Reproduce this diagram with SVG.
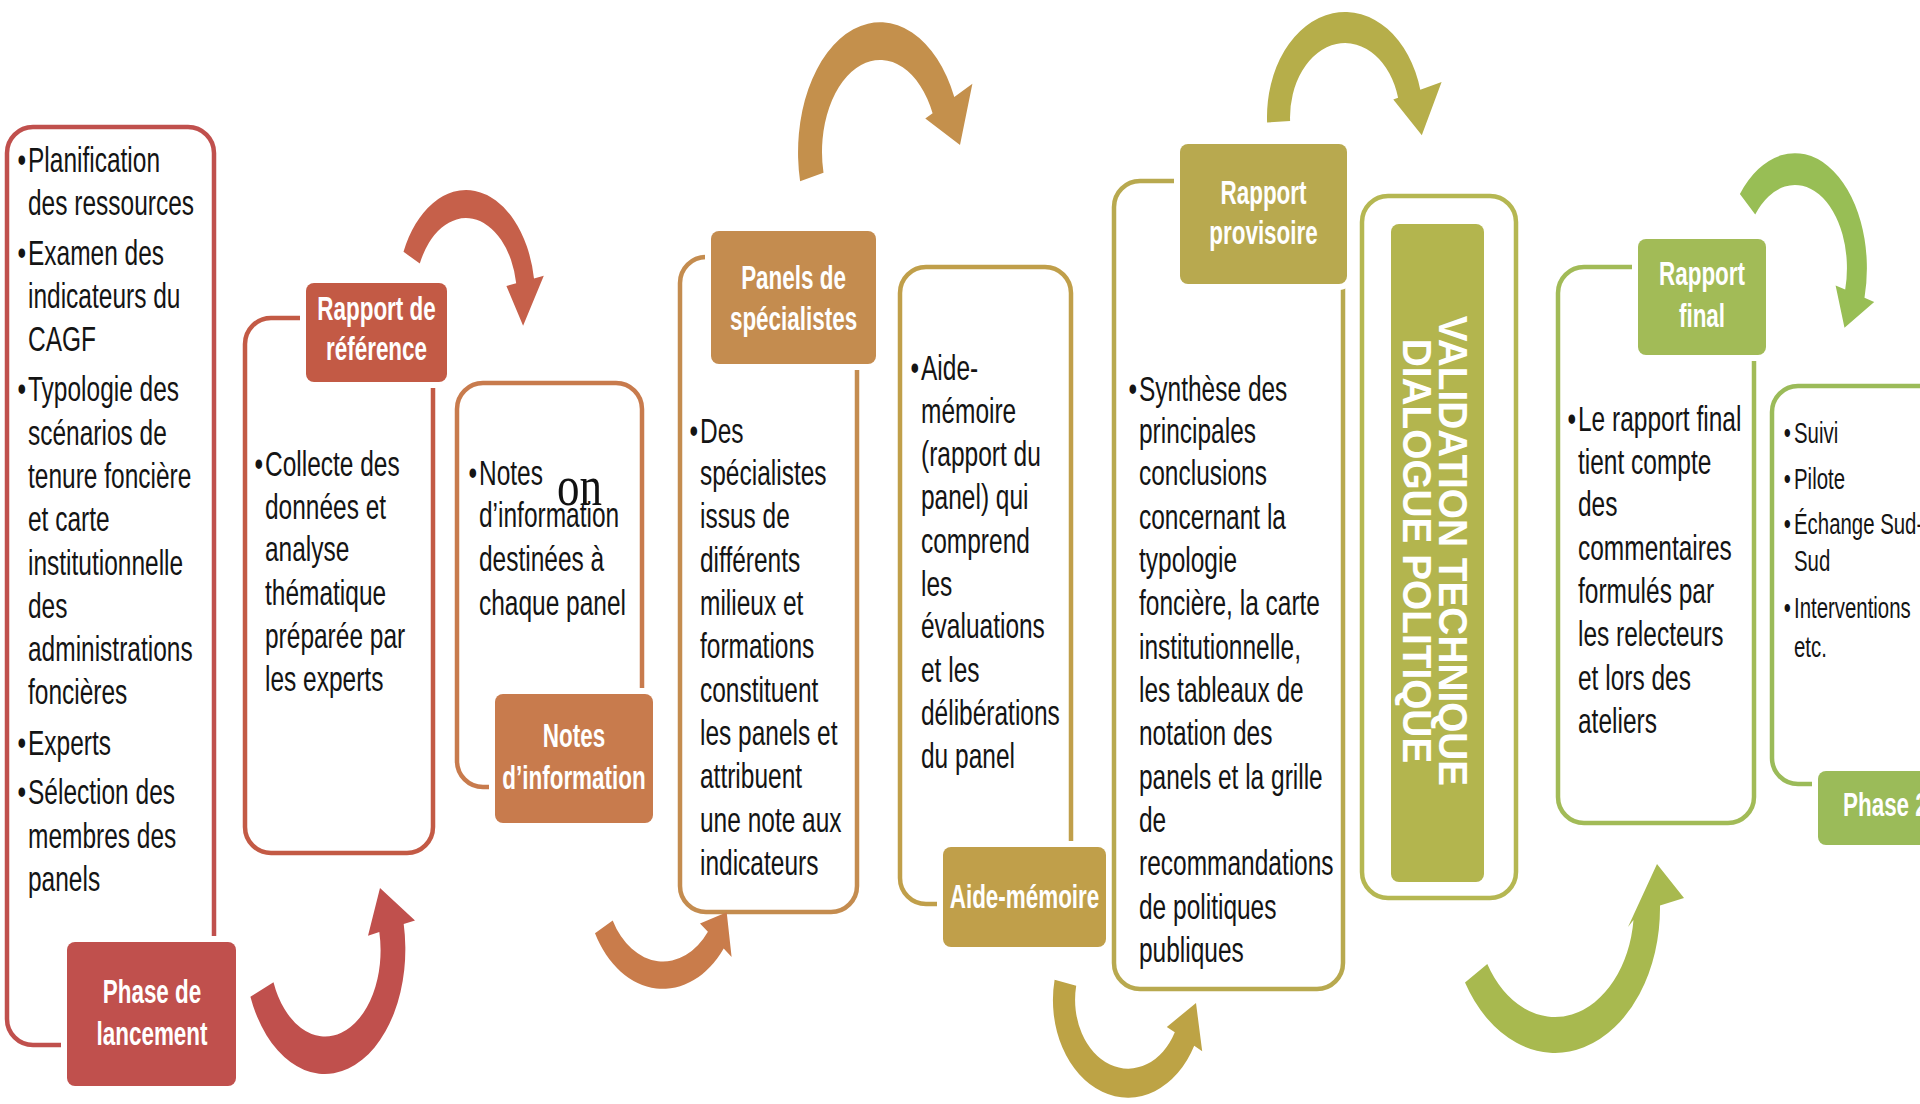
<svg xmlns="http://www.w3.org/2000/svg" width="1920" height="1104" viewBox="0 0 1920 1104">
<style>
.body{font-family:"Liberation Sans",Arial,sans-serif;font-size:35px;fill:#141414}
.small{font-size:30px}
.lbl{font-family:"Liberation Sans",Arial,sans-serif;font-size:34px;font-weight:bold;fill:#ffffff;text-anchor:middle}
.lbls{font-family:"Liberation Sans",Arial,sans-serif;font-size:34px;font-weight:bold;fill:#ffffff}
.vt{font-family:"Liberation Sans",Arial,sans-serif;font-size:40px;font-weight:bold;fill:#ffffff;text-anchor:middle}
.frame{fill:#ffffff;stroke-width:4.5}
.tag{stroke:#ffffff;stroke-width:12;paint-order:stroke}
.serif{font-family:"Liberation Serif","Times New Roman",serif;font-size:58px;fill:#111111}
</style>
<rect width="1920" height="1104" fill="#ffffff"/>

<g id="node-lancement">
<rect class="frame" x="7" y="127" width="207" height="918" rx="26" stroke="#c0504d"/>
<rect class="tag" x="67" y="942" width="169" height="144" rx="8" fill="#c0504d"/>
<text class="lbl" transform="translate(152,0) scale(0.66,1)"><tspan x="0" y="1003">Phase de</tspan><tspan x="0" y="1045">lancement</tspan></text>
<text class="body" transform="translate(28,0) scale(0.7,1)">
<tspan x="-15" y="172">•</tspan><tspan x="0" y="172">Planification</tspan>
<tspan x="0" y="215">des ressources</tspan>
<tspan x="-15" y="265">•</tspan><tspan x="0" y="265">Examen des</tspan>
<tspan x="0" y="308">indicateurs du</tspan>
<tspan x="0" y="351">CAGF</tspan>
<tspan x="-15" y="401">•</tspan><tspan x="0" y="401">Typologie des</tspan>
<tspan x="0" y="445">scénarios de</tspan>
<tspan x="0" y="488">tenure foncière</tspan>
<tspan x="0" y="531">et carte</tspan>
<tspan x="0" y="575">institutionnelle</tspan>
<tspan x="0" y="618">des</tspan>
<tspan x="0" y="661">administrations</tspan>
<tspan x="0" y="704">foncières</tspan>
<tspan x="-15" y="755">•</tspan><tspan x="0" y="755">Experts</tspan>
<tspan x="-15" y="804">•</tspan><tspan x="0" y="804">Sélection des</tspan>
<tspan x="0" y="848">membres des</tspan>
<tspan x="0" y="891">panels</tspan>
</text>
</g>

<g id="node-rapport-reference">
<rect class="frame" x="245" y="318" width="188" height="535" rx="26" stroke="#c35a45"/>
<rect class="tag" x="306" y="283" width="141" height="99" rx="8" fill="#c35a45"/>
<text class="lbl" transform="translate(376.5,0) scale(0.66,1)"><tspan x="0" y="320">Rapport de</tspan><tspan x="0" y="360">référence</tspan></text>
<text class="body" transform="translate(265,0) scale(0.7,1)">
<tspan x="-15" y="476">•</tspan><tspan x="0" y="476">Collecte des</tspan>
<tspan x="0" y="519">données et</tspan>
<tspan x="0" y="561">analyse</tspan>
<tspan x="0" y="605">thématique</tspan>
<tspan x="0" y="648">préparée par</tspan>
<tspan x="0" y="691">les experts</tspan>
</text>
</g>

<g id="node-notes-information">
<rect class="frame" x="457" y="383" width="185" height="404" rx="26" stroke="#c87b4d"/>
<rect class="tag" x="495" y="694" width="158" height="129" rx="8" fill="#c87b4d"/>
<text class="lbl" transform="translate(574,0) scale(0.66,1)"><tspan x="0" y="747">Notes</tspan><tspan x="0" y="789">d’information</tspan></text>
<text class="body" transform="translate(479,0) scale(0.7,1)">
<tspan x="-15" y="485">•</tspan><tspan x="0" y="485">Notes</tspan>
<tspan x="0" y="527">d’information</tspan>
<tspan x="0" y="571">destinées à</tspan>
<tspan x="0" y="615">chaque panel</tspan>
</text>
</g>

<g id="stray-text">
<text class="serif" transform="translate(557,505) scale(0.776,1)">on</text>
</g>

<g id="node-panels-specialistes">
<rect class="frame" x="680" y="257" width="177" height="655" rx="26" stroke="#c48c4f"/>
<rect class="tag" x="711" y="231" width="165" height="133" rx="8" fill="#c48c4f"/>
<text class="lbl" transform="translate(793.5,0) scale(0.66,1)"><tspan x="0" y="289">Panels de</tspan><tspan x="0" y="330">spécialistes</tspan></text>
<text class="body" transform="translate(700,0) scale(0.7,1)">
<tspan x="-15" y="443">•</tspan><tspan x="0" y="443">Des</tspan>
<tspan x="0" y="485">spécialistes</tspan>
<tspan x="0" y="528">issus de</tspan>
<tspan x="0" y="572">différents</tspan>
<tspan x="0" y="615">milieux et</tspan>
<tspan x="0" y="658">formations</tspan>
<tspan x="0" y="702">constituent</tspan>
<tspan x="0" y="745">les panels et</tspan>
<tspan x="0" y="788">attribuent</tspan>
<tspan x="0" y="832">une note aux</tspan>
<tspan x="0" y="875">indicateurs</tspan>
</text>
</g>

<g id="node-aide-memoire">
<rect class="frame" x="900" y="267" width="171" height="637" rx="26" stroke="#c09f4a"/>
<rect class="tag" x="943" y="847" width="163" height="100" rx="8" fill="#c09f4a"/>
<text class="lbl" transform="translate(1024.5,0) scale(0.66,1)"><tspan x="0" y="908">Aide-mémoire</tspan></text>
<text class="body" transform="translate(921,0) scale(0.7,1)">
<tspan x="-15" y="380">•</tspan><tspan x="0" y="380">Aide-</tspan>
<tspan x="0" y="423">mémoire</tspan>
<tspan x="0" y="466">(rapport du</tspan>
<tspan x="0" y="509">panel) qui</tspan>
<tspan x="0" y="553">comprend</tspan>
<tspan x="0" y="596">les</tspan>
<tspan x="0" y="638">évaluations</tspan>
<tspan x="0" y="682">et les</tspan>
<tspan x="0" y="725">délibérations</tspan>
<tspan x="0" y="768">du panel</tspan>
</text>
</g>

<g id="node-rapport-provisoire">
<rect class="frame" x="1114" y="181" width="229" height="808" rx="26" stroke="#b8a94f"/>
<rect class="tag" x="1180" y="144" width="167" height="140" rx="8" fill="#b8a94f"/>
<text class="lbl" transform="translate(1263.5,0) scale(0.66,1)"><tspan x="0" y="204">Rapport</tspan><tspan x="0" y="244">provisoire</tspan></text>
<text class="body" transform="translate(1139,0) scale(0.7,1)">
<tspan x="-15" y="401">•</tspan><tspan x="0" y="401">Synthèse des</tspan>
<tspan x="0" y="443">principales</tspan>
<tspan x="0" y="485">conclusions</tspan>
<tspan x="0" y="529">concernant la</tspan>
<tspan x="0" y="572">typologie</tspan>
<tspan x="0" y="615">foncière, la carte</tspan>
<tspan x="0" y="659">institutionnelle,</tspan>
<tspan x="0" y="702">les tableaux de</tspan>
<tspan x="0" y="745">notation des</tspan>
<tspan x="0" y="789">panels et la grille</tspan>
<tspan x="0" y="832">de</tspan>
<tspan x="0" y="875">recommandations</tspan>
<tspan x="0" y="919">de politiques</tspan>
<tspan x="0" y="962">publiques</tspan>
</text>
</g>

<g id="node-validation">
<rect class="frame" x="1362" y="196" width="154" height="702" rx="26" stroke="#b5b752"/>
<rect x="1391" y="224" width="93" height="658" rx="8" fill="#b3b54e"/>
<text class="vt" transform="translate(1439,551) rotate(90) scale(0.97,1)">VALIDATION TECHNIQUE</text>
<text class="vt" transform="translate(1403,551) rotate(90) scale(0.97,1)">DIALOGUE POLITIQUE</text>
</g>

<g id="node-rapport-final">
<rect class="frame" x="1558" y="267" width="196" height="556" rx="26" stroke="#a2bb57"/>
<rect class="tag" x="1638" y="239" width="128" height="116" rx="8" fill="#a2bb57"/>
<text class="lbl" transform="translate(1702,0) scale(0.66,1)"><tspan x="0" y="285">Rapport</tspan><tspan x="0" y="327">final</tspan></text>
<text class="body" transform="translate(1578,0) scale(0.7,1)">
<tspan x="-15" y="431">•</tspan><tspan x="0" y="431">Le rapport final</tspan>
<tspan x="0" y="474">tient compte</tspan>
<tspan x="0" y="516">des</tspan>
<tspan x="0" y="560">commentaires</tspan>
<tspan x="0" y="603">formulés par</tspan>
<tspan x="0" y="646">les relecteurs</tspan>
<tspan x="0" y="690">et lors des</tspan>
<tspan x="0" y="733">ateliers</tspan>
</text>
</g>

<g id="node-phase2">
<rect class="frame" x="1772" y="386" width="190" height="398" rx="26" stroke="#9bbb59"/>
<rect class="tag" x="1818" y="771" width="140" height="74" rx="8" fill="#9bbb59"/>
<text class="lbls" transform="translate(1843,816) scale(0.66,1)">Phase 2</text>
<text class="body small" transform="translate(1794,0) scale(0.68,1)">
<tspan x="-15" y="443">•</tspan><tspan x="0" y="443">Suivi</tspan>
<tspan x="-15" y="489">•</tspan><tspan x="0" y="489">Pilote</tspan>
<tspan x="-15" y="534">•</tspan><tspan x="0" y="534">Échange Sud-</tspan>
<tspan x="0" y="571">Sud</tspan>
<tspan x="-15" y="618">•</tspan><tspan x="0" y="618">Interventions</tspan>
<tspan x="0" y="657">etc.</tspan>
</text>
</g>

<g id="connectors">
<path fill="#c0504d" d="M250.4,996.7 A80.5,124.8 0 0 0 403.7,924.1 L415,920.4 L380,888 L368,935.8 L379.3,932.1 A55.5,86 0 0 1 273.5,982.2 Z"/>
<path fill="#c6604a" d="M403.5,251.8 A69,107 0 0 1 534,278.4 L543.8,275.7 L523.1,325.7 L506.4,286 L516.2,283.3 A51,79 0 0 0 419.8,263.6 Z"/>
<path fill="#c97c4b" d="M595,933.2 A77,104.7 0 0 0 723.7,948.5 L731.6,956.9 L726.7,912.2 L700,923.4 L707.9,931.7 A57,77.5 0 0 1 612.7,920.4 Z"/>
<path fill="#c4904c" d="M800.1,181.2 A82,130 0 0 1 954.3,97.1 L972.4,83.7 L960,145 L925.3,118.5 L932.6,113.2 A58,91.9 0 0 0 823.5,172.7 Z"/>
<path fill="#bda345" d="M1054.6,979.7 A75,97.5 0 0 0 1194.2,1045.8 L1202.2,1051.3 L1196,1003.1 L1166.8,1026.9 L1174.8,1032.3 A53,68.9 0 0 1 1076.2,985.7 Z"/>
<path fill="#b6ae4a" d="M1267.1,122.5 A78,105.3 0 0 1 1420.3,89.75 L1441.6,82.1 L1421.8,135.3 L1393.3,99.5 L1398.1,97.8 A55,74.25 0 0 0 1290.1,120.9 Z"/>
<path fill="#a8b94f" d="M1465,982.6 A105,144.9 0 0 0 1660,905.5 L1684,898 L1657,864 L1628,927 L1633.5,920 A79,109 0 0 1 1487.3,964.1 Z"/>
<path fill="#98be55" d="M1739.9,194 A72,115.2 0 0 1 1864.5,297.8 L1874.2,302 L1844.5,327.7 L1835.6,285.4 L1845.2,289.5 A52,83.2 0 0 0 1755.2,214.5 Z"/>
</g>
</svg>
